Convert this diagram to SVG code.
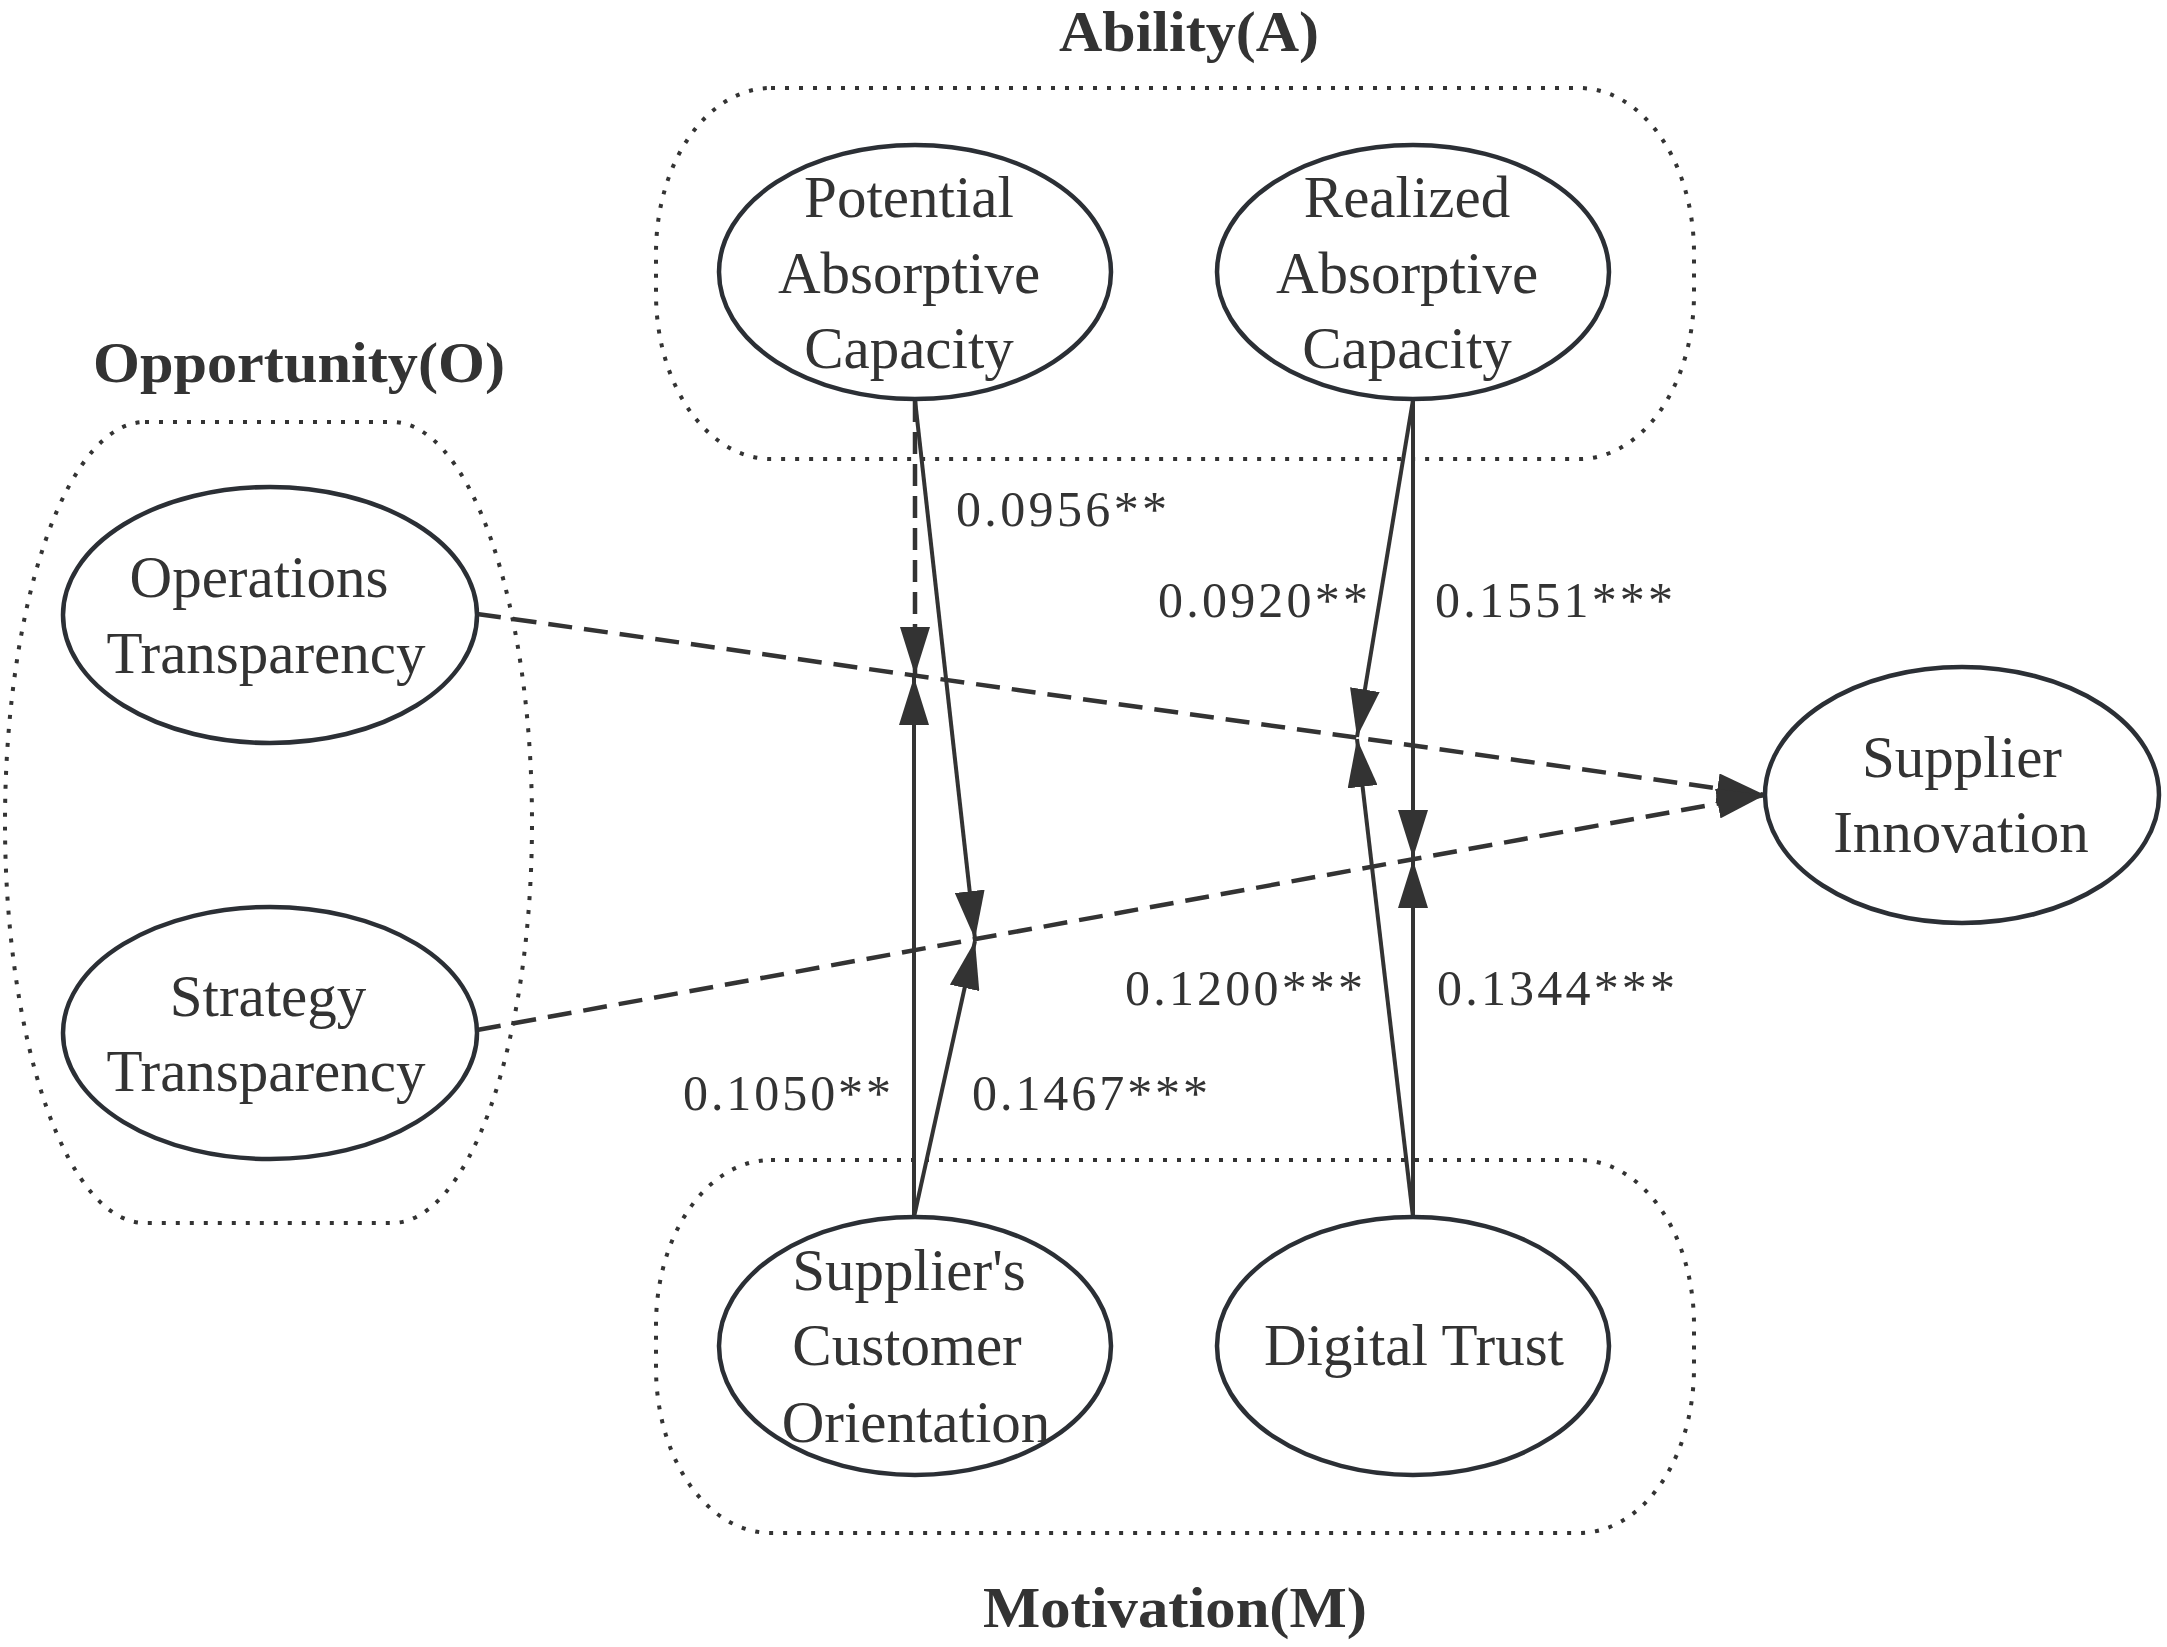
<svg xmlns="http://www.w3.org/2000/svg" width="2167" height="1647" viewBox="0 0 2167 1647">
<style>
.group{fill:none;stroke:#333;stroke-width:4;stroke-dasharray:4 10}
.node{fill:#fff;stroke:#2b2f35;stroke-width:4.5}
.t{font-family:"Liberation Serif","Times New Roman",serif;font-size:59px;fill:#333;text-anchor:middle}
.title{font-family:"Liberation Serif","Times New Roman",serif;font-size:58px;font-weight:bold;fill:#333;text-anchor:middle}
.lbl{font-family:"Liberation Serif","Times New Roman",serif;font-size:50px;fill:#333}
.solid{fill:none;stroke:#333;stroke-width:4}
.dash{fill:none;stroke:#333;stroke-width:4.5;stroke-dasharray:24 12}
.vdash{fill:none;stroke:#333;stroke-width:4.5;stroke-dasharray:22 10}
</style>
<defs>
<marker id="arr" markerUnits="userSpaceOnUse" markerWidth="48" markerHeight="30" refX="48" refY="15" orient="auto" viewBox="0 0 48 30">
<path d="M0,0 L48,15 L0,30 z" fill="#333"/>
</marker>
</defs>
<rect width="2167" height="1647" fill="#fff"/>

<g id="group-ability">
<rect class="group" x="656" y="88" width="1038" height="371" rx="115" ry="165"/>
<text class="title" x="1189" y="51" textLength="260" lengthAdjust="spacingAndGlyphs">Ability(A)</text>
</g>
<g id="group-opportunity">
<rect class="group" x="5" y="422" width="527" height="801" rx="140" ry="400"/>
<text class="title" x="299" y="382" textLength="412" lengthAdjust="spacingAndGlyphs">Opportunity(O)</text>
</g>
<g id="group-motivation">
<rect class="group" x="656" y="1160" width="1038" height="373" rx="115" ry="165"/>
<text class="title" x="1175" y="1627" textLength="384" lengthAdjust="spacingAndGlyphs">Motivation(M)</text>
</g>

<g id="connectors">
<line class="dash" x1="477" y1="614" x2="1765" y2="795" marker-end="url(#arr)"/>
<line class="dash" x1="477" y1="1030" x2="1765" y2="795" marker-end="url(#arr)"/>
<line class="vdash" x1="915" y1="400" x2="915" y2="675" marker-end="url(#arr)"/>
<line class="solid" x1="915" y1="400" x2="975" y2="939" marker-end="url(#arr)"/>
<line class="solid" x1="914" y1="1217" x2="914" y2="677" marker-end="url(#arr)"/>
<line class="solid" x1="914" y1="1217" x2="975" y2="941" marker-end="url(#arr)"/>
<line class="solid" x1="1413" y1="400" x2="1357" y2="737" marker-end="url(#arr)"/>
<line class="solid" x1="1413" y1="400" x2="1413" y2="858" marker-end="url(#arr)"/>
<line class="solid" x1="1413" y1="1217" x2="1357" y2="739" marker-end="url(#arr)"/>
<line class="solid" x1="1413" y1="1217" x2="1413" y2="860" marker-end="url(#arr)"/>
<text class="lbl" x="956" y="526" textLength="211" lengthAdjust="spacing">0.0956**</text>
<text class="lbl" x="1158" y="617" textLength="210" lengthAdjust="spacing">0.0920**</text>
<text class="lbl" x="1435" y="617" textLength="238" lengthAdjust="spacing">0.1551***</text>
<text class="lbl" x="1125" y="1005" textLength="238" lengthAdjust="spacing">0.1200***</text>
<text class="lbl" x="1437" y="1005" textLength="238" lengthAdjust="spacing">0.1344***</text>
<text class="lbl" x="683" y="1110" textLength="208" lengthAdjust="spacing">0.1050**</text>
<text class="lbl" x="972" y="1110" textLength="236" lengthAdjust="spacing">0.1467***</text>
</g>

<g id="node-pac">
<ellipse class="node" cx="915" cy="272" rx="196" ry="127"/>
<text class="t" x="909" y="217">Potential</text>
<text class="t" x="909" y="293">Absorptive</text>
<text class="t" x="909" y="368">Capacity</text>
</g>
<g id="node-rac">
<ellipse class="node" cx="1413" cy="272" rx="196" ry="127"/>
<text class="t" x="1407" y="217">Realized</text>
<text class="t" x="1407" y="293">Absorptive</text>
<text class="t" x="1407" y="368">Capacity</text>
</g>
<g id="node-ot">
<ellipse class="node" cx="270" cy="615" rx="207" ry="128"/>
<text class="t" x="259" y="597">Operations</text>
<text class="t" x="266" y="673">Transparency</text>
</g>
<g id="node-st">
<ellipse class="node" cx="270" cy="1033" rx="207" ry="126"/>
<text class="t" x="268" y="1016">Strategy</text>
<text class="t" x="266" y="1091">Transparency</text>
</g>
<g id="node-si">
<ellipse class="node" cx="1962" cy="795" rx="197" ry="128"/>
<text class="t" x="1962" y="777">Supplier</text>
<text class="t" x="1961" y="852">Innovation</text>
</g>
<g id="node-sco">
<ellipse class="node" cx="915" cy="1346" rx="196" ry="129"/>
<text class="t" x="909" y="1290">Supplier's</text>
<text class="t" x="907" y="1365">Customer</text>
<text class="t" x="916" y="1442">Orientation</text>
</g>
<g id="node-dt">
<ellipse class="node" cx="1413" cy="1346" rx="196" ry="129"/>
<text class="t" x="1414" y="1365">Digital Trust</text>
</g>
</svg>
